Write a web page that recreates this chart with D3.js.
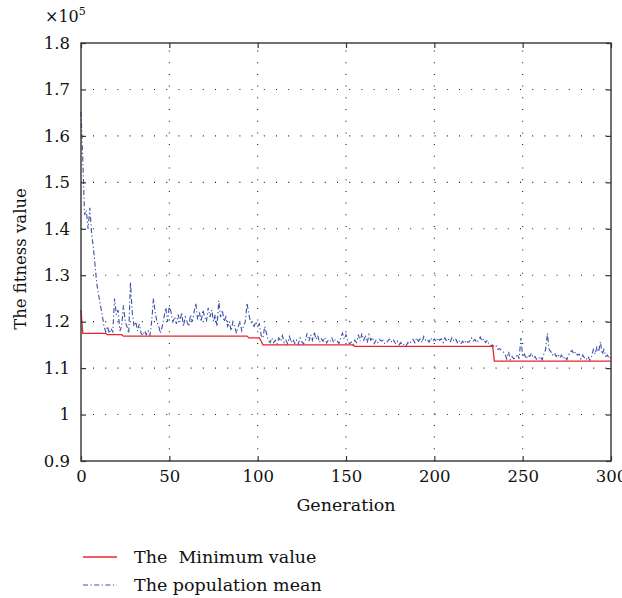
<!DOCTYPE html>
<html>
<head>
<meta charset="utf-8">
<script src="https://cdn.jsdelivr.net/npm/d3@7"></script>
<style>
  html, body { margin: 0; padding: 0; background: #fff; }
  svg { display: block; }
  text { font-family: "DejaVu Serif", "Liberation Serif", serif; fill: #111; }
</style>
</head>
<body>
<svg id="chart" width="622" height="598"></svg>
<script>
// ---------- data ----------
const xTicks = [0, 50, 100, 150, 200, 250, 300];
const yTicks = [0.9, 1.0, 1.1, 1.2, 1.3, 1.4, 1.5, 1.6, 1.7, 1.8];
const yTickLabels = ["0.9", "1", "1.1", "1.2", "1.3", "1.4", "1.5", "1.6", "1.7", "1.8"];
const legendLabels = ["The  Minimum value", "The population mean"];

// minimum value (x10^5): [generation, value] breakpoints of the step line
const minSteps = [
  [0, 1.225], [1, 1.175], [14, 1.175], [15, 1.172], [23, 1.172], [24, 1.169],
  [94, 1.169], [95, 1.165], [101, 1.165], [102, 1.158], [103, 1.150],
  [154, 1.150], [155, 1.147], [232, 1.147], [233, 1.147], [234, 1.115], [300, 1.115]
];

// population mean (x10^5), generations 0..300
const meanValues = [
  1.652, 1.55, 1.43, 1.44, 1.40, 1.445, 1.39, 1.36, 1.32, 1.28,
  1.257, 1.235, 1.215, 1.19, 1.178, 1.19, 1.175, 1.185, 1.178, 1.25,
  1.215, 1.225, 1.18, 1.19, 1.235, 1.20, 1.19, 1.175, 1.285, 1.22,
  1.19, 1.20, 1.18, 1.195, 1.175, 1.17, 1.18, 1.172, 1.18, 1.17,
  1.20, 1.25, 1.22, 1.20, 1.19, 1.175, 1.19, 1.21, 1.23, 1.20,
  1.235, 1.22, 1.20, 1.21, 1.195, 1.215, 1.20, 1.22, 1.19, 1.21,
  1.20, 1.19, 1.215, 1.20, 1.22, 1.24, 1.205, 1.22, 1.20, 1.225,
  1.21, 1.20, 1.23, 1.21, 1.225, 1.20, 1.215, 1.19, 1.245, 1.21,
  1.225, 1.20, 1.21, 1.19, 1.20, 1.18, 1.20, 1.19, 1.175, 1.19,
  1.20, 1.18, 1.19, 1.20, 1.24, 1.215, 1.20, 1.195, 1.19, 1.20,
  1.19, 1.195, 1.17, 1.165, 1.19, 1.175, 1.16, 1.155, 1.165, 1.155,
  1.16, 1.152, 1.165, 1.158, 1.17, 1.155, 1.16, 1.152, 1.168, 1.155,
  1.162, 1.153, 1.16, 1.151, 1.165, 1.157, 1.152, 1.16, 1.175, 1.158,
  1.172, 1.16, 1.178, 1.162, 1.17, 1.155, 1.163, 1.158, 1.166, 1.154,
  1.16, 1.157, 1.165, 1.155, 1.162, 1.158, 1.153, 1.165, 1.175, 1.162,
  1.172, 1.158, 1.152, 1.156, 1.15, 1.16, 1.155, 1.172, 1.158, 1.175,
  1.16, 1.168, 1.155, 1.172, 1.16, 1.166, 1.153, 1.16, 1.155, 1.162,
  1.158, 1.16, 1.152, 1.155, 1.16, 1.163, 1.155, 1.16, 1.153, 1.158,
  1.15, 1.155, 1.149, 1.152, 1.148, 1.155, 1.152, 1.158, 1.162, 1.155,
  1.165, 1.158, 1.163, 1.155, 1.168, 1.16, 1.162, 1.156, 1.165, 1.158,
  1.163, 1.157, 1.165, 1.16, 1.163, 1.155, 1.165, 1.158, 1.162, 1.156,
  1.166, 1.16, 1.164, 1.155, 1.16, 1.152, 1.158, 1.153, 1.16, 1.155,
  1.158, 1.165, 1.158, 1.162, 1.155, 1.16, 1.167, 1.158, 1.163, 1.155,
  1.16, 1.15, 1.148, 1.15, 1.145, 1.148, 1.14, 1.142, 1.138, 1.135,
  1.13, 1.12, 1.135, 1.118, 1.125, 1.12, 1.122, 1.13, 1.12, 1.165,
  1.125, 1.13, 1.12, 1.128, 1.125, 1.132, 1.122, 1.125, 1.118, 1.12,
  1.125, 1.118, 1.13, 1.14, 1.175, 1.14, 1.135, 1.128, 1.133, 1.125,
  1.13, 1.122, 1.128, 1.12, 1.125, 1.118, 1.128, 1.135, 1.138, 1.13,
  1.135, 1.128, 1.13, 1.12, 1.128, 1.122, 1.118, 1.125, 1.117, 1.125,
  1.14, 1.13, 1.145, 1.135, 1.157, 1.13, 1.14, 1.125, 1.128, 1.12,
  1.125
];

// ---------- layout ----------
const svg = d3.select("#chart");
const L = 81, R = 611, T = 43, B = 461;
const x = d3.scaleLinear().domain([0, 300]).range([L, R]);
const y = d3.scaleLinear().domain([0.9, 1.8]).range([B, T]);
const axisColor = "#333";

// grid (dotted)
const grid = svg.append("g");
grid.selectAll("line.vg").data(xTicks.filter(d => d > 0 && d < 300)).enter()
  .append("line")
  .attr("x1", d => x(d)).attr("x2", d => x(d))
  .attr("y1", B).attr("y2", T)
  .attr("stroke", "#222").attr("stroke-width", 1.1)
  .attr("stroke-dasharray", "1,10.7");
grid.selectAll("line.hg").data(yTicks.filter(d => d > 0.9 && d < 1.8)).enter()
  .append("line")
  .attr("x1", L).attr("x2", R)
  .attr("y1", d => y(d)).attr("y2", d => y(d))
  .attr("stroke", "#222").attr("stroke-width", 1.1)
  .attr("stroke-dasharray", "1,11.2")
  .attr("stroke-dashoffset", -12);

// series
const meanLine = d3.line().x((d, i) => x(i)).y(d => y(d));
svg.append("path")
  .datum(meanValues)
  .attr("d", meanLine)
  .attr("fill", "none")
  .attr("stroke", "#3a4fa6")
  .attr("stroke-width", 1.1)
  .attr("stroke-dasharray", "5,2.5,1.2,2.5");

const minLine = d3.line().x(d => x(d[0])).y(d => y(d[1]));
svg.append("path")
  .datum(minSteps)
  .attr("d", minLine)
  .attr("fill", "none")
  .attr("stroke", "#e8252f")
  .attr("stroke-width", 1.3);

// axes (box with inward ticks on all sides)
const tickLen = 5;
const axBottom = d3.axisBottom(x).tickValues(xTicks).tickSize(-tickLen).tickPadding(9)
  .tickFormat(d3.format("d"));
const axTop = d3.axisTop(x).tickValues(xTicks).tickSize(-tickLen).tickFormat("");
const axLeft = d3.axisLeft(y).tickValues(yTicks).tickSize(-tickLen).tickPadding(11)
  .tickFormat((d, i) => yTickLabels[i]);
const axRight = d3.axisRight(y).tickValues(yTicks).tickSize(-tickLen).tickFormat("");

function styleAxis(g) {
  g.select(".domain").remove();
  g.selectAll(".tick line").attr("stroke", axisColor).attr("stroke-width", 1.2);
  g.selectAll(".tick text").attr("fill", "#111")
    .style("font-family", "'DejaVu Serif', serif").style("font-size", "16.5px");
}
svg.append("g").attr("transform", `translate(0,${B})`).call(axBottom).call(styleAxis);
svg.append("g").attr("transform", `translate(0,${T})`).call(axTop).call(styleAxis);
svg.append("g").attr("transform", `translate(${L},0)`).call(axLeft).call(styleAxis);
svg.append("g").attr("transform", `translate(${R},0)`).call(axRight).call(styleAxis);

svg.append("rect")
  .attr("x", L).attr("y", T).attr("width", R - L).attr("height", B - T)
  .attr("fill", "none").attr("stroke", axisColor).attr("stroke-width", 1.4);

// exponent label
const ex = svg.append("text").attr("x", 45).attr("y", 22).style("font-size", "16px");
ex.append("tspan").text("×10");
ex.append("tspan").attr("dy", -7).style("font-size", "11px").text("5");

// axis titles
svg.append("text")
  .attr("x", (L + R) / 2).attr("y", 511)
  .attr("text-anchor", "middle").style("font-size", "17.5px")
  .text("Generation");
svg.append("text")
  .attr("transform", `translate(26,${(T + B) / 2 + 7}) rotate(-90)`)
  .attr("text-anchor", "middle").style("font-size", "16.5px")
  .text("The fitness value");

// legend
const leg = svg.append("g");
const legendY = [557, 585];
leg.append("line").attr("x1", 83).attr("x2", 117).attr("y1", legendY[0]).attr("y2", legendY[0])
  .attr("stroke", "#e8252f").attr("stroke-width", 1.3);
leg.append("line").attr("x1", 83).attr("x2", 117).attr("y1", legendY[1]).attr("y2", legendY[1])
  .attr("stroke", "#3a4fa6").attr("stroke-width", 1.1)
  .attr("stroke-dasharray", "5,2.5,1.2,2.5");
leg.selectAll("text.lg").data(legendLabels).enter()
  .append("text")
  .attr("x", 134).attr("y", (d, i) => legendY[i] + 6)
  .style("font-size", "17.5px")
  .style("white-space", "pre")
  .attr("xml:space", "preserve")
  .text(d => d);
</script>
</body>
</html>
